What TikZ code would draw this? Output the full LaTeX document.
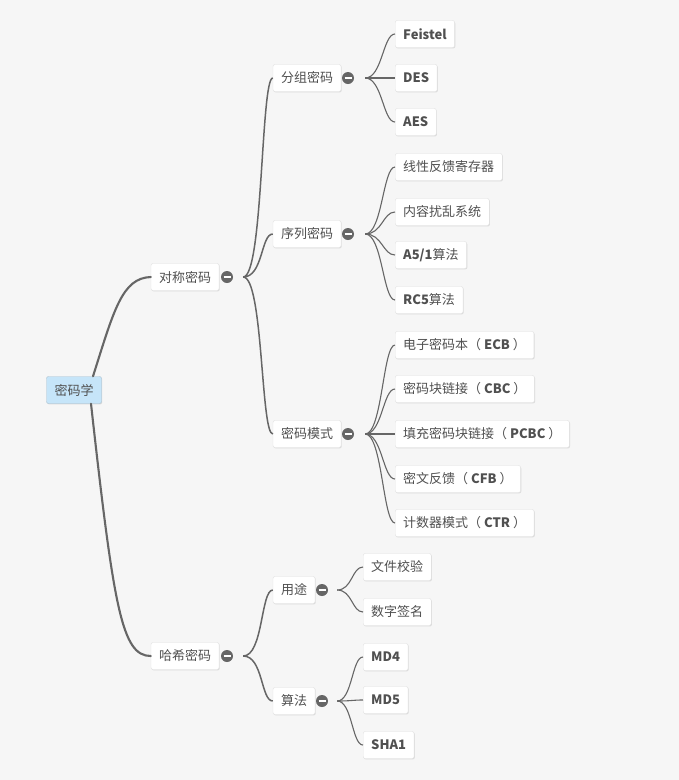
\documentclass[tikz,border=0pt]{standalone}
\usepackage{fontspec}
\setmainfont{Noto Sans CJK SC}
\usetikzlibrary{shadows}
\definecolor{bgcol}{HTML}{F6F6F6}
\definecolor{linecol}{HTML}{666666}
\definecolor{txtcol}{HTML}{505050}
\definecolor{rootcol}{HTML}{C6E5F9}
\tikzset{
  box/.style={rectangle, rounded corners=2pt, fill=white, draw=black!12,
    text=txtcol, font=\fontsize{13pt}{15pt}\selectfont,
    minimum height=27pt, inner xsep=8pt, inner ysep=0pt,
    drop shadow={shadow xshift=0.7pt, shadow yshift=-0.9pt, opacity=0.22}},
  leaf/.style={box, anchor=west},
  btn/.style={circle, fill=linecol, minimum size=12pt, inner sep=0pt,
    path picture={\draw[white, line width=1.6pt]
      ([xshift=-3.5pt]path picture bounding box.center) --
      ([xshift=3.5pt]path picture bounding box.center);}},
  lv0/.style={draw=linecol, line width=2.1pt, line cap=round},
  lv1/.style={draw=linecol, line width=1.5pt},
  lv2/.style={draw=linecol, line width=1.1pt}
}
\begin{document}
\begin{tikzpicture}[x=1pt,y=-1pt]
  \fill[bgcol] (0,0) rectangle (679,780);
  \node[box, fill=rootcol, draw=rootcol!80!black!90] (root) at (74,390) {密码学};
  \node[box] (sym) at (185,277) {对称密码};
  \node[box] (hash) at (185,656) {哈希密码};
  \node[btn] (bsym) at (227,277) {};
  \node[btn] (bhash) at (227,656) {};
  \draw[lv0] ([xshift=19pt]root.north) .. controls (114,310) and (122,278) .. (sym.west);
  \draw[lv0] ([xshift=17pt]root.south) .. controls (114,610) and (122,656) .. (hash.west);

  \coordinate (fsym) at ([xshift=10pt]bsym.east);
  \coordinate (fhash) at ([xshift=10pt]bhash.east);
  \node[box] (block) at (307,78) {分组密码};
  \node[box] (stream) at (307,234) {序列密码};
  \node[box] (mode) at (307,434) {密码模式};
  \node[box] (use) at (294,590) {用途};
  \node[box] (algo) at (294,701) {算法};
  \foreach \n in {block,stream,mode}
    \draw[lv1] (fsym) .. controls +(20,0) and +(-12,0) .. (\n.west);
  \foreach \n in {use,algo}
    \draw[lv1] (fhash) .. controls +(20,0) and +(-12,0) .. (\n.west);

  \node[btn] (bblock) at (348,78) {};
  \node[btn] (bstream) at (348,234) {};
  \node[btn] (bmode) at (348,434) {};
  \node[btn] (buse) at (322,590) {};
  \node[btn] (balgo) at (322,701) {};
  \coordinate (fblock) at ([xshift=11pt]bblock.east);
  \coordinate (fstream) at ([xshift=11pt]bstream.east);
  \coordinate (fmode) at ([xshift=11pt]bmode.east);
  \coordinate (fuse) at ([xshift=9pt]buse.east);
  \coordinate (falgo) at ([xshift=9pt]balgo.east);

  \foreach \n/\y/\t/\f in {feistel/34/\textbf{Feistel}/fblock,
      des/78/\textbf{DES}/fblock, aes/122/\textbf{AES}/fblock,
      lfsr/167/线性反馈寄存器/fstream, perm/212/内容扰乱系统/fstream,
      afive/255/{\textbf{A5/1}算法}/fstream, rcfive/300/\textbf{RC5}算法/fstream,
      ecb/345/电子密码本（ \textbf{ECB} ）/fmode, cbc/389/密码块链接（ \textbf{CBC} ）/fmode,
      pcbc/434/填充密码块链接（ \textbf{PCBC} ）/fmode, cfb/479/密文反馈（ \textbf{CFB} ）/fmode,
      ctr/523/计数器模式（ \textbf{CTR} ）/fmode}{
    \node[leaf] (\n) at (395,\y) {\t};
    \draw[lv2] (\f) .. controls +(17,0) and +(-12,0) .. (\n.west);
  }
  \foreach \n/\y/\t/\f in {check/567/文件校验/fuse, sign/612/数字签名/fuse,
      mdfour/657/\textbf{MD4}/falgo, mdfive/700/\textbf{MD5}/falgo,
      sha/745/\textbf{SHA1}/falgo}{
    \node[leaf] (\n) at (363,\y) {\t};
    \draw[lv2] (\f) .. controls +(15,0) and +(-11,0) .. (\n.west);
  }
\end{tikzpicture}
\end{document}
